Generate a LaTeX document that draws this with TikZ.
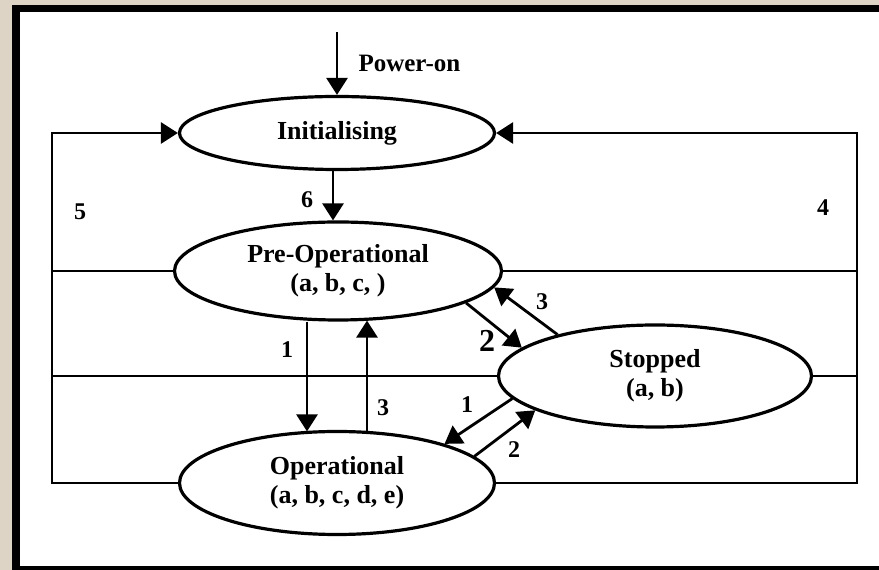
\documentclass[tikz,border=0pt]{standalone}
\usepackage{fontspec}
\setmainfont{Liberation Serif}
\usepackage{tikz}
\usetikzlibrary{shapes.geometric, arrows.meta, positioning, calc}
\usepackage{xcolor}
\definecolor{stoneBg}{RGB}{222,212,197}

\begin{document}
\begin{tikzpicture}[x=1pt, y=1pt,
  phase/.style={ellipse, draw, line width=3.2pt, fill=white,
                inner sep=0pt, align=center,
                font=\fontsize{26}{29}\selectfont\bfseries},
  arr/.style={-{Triangle[length=17pt, width=21pt]}, line width=2.8pt},
  bus/.style={line width=2.6pt},
  num/.style={font=\fontsize{24}{24}\selectfont\bfseries}
]
  % frame
  \useasboundingbox (0,0) rectangle (879,570);
  \fill[stoneBg] (0,0) rectangle (879,570);
  \fill[black] (12,0) rectangle (879,565);
  \fill[white] (20,4) rectangle (879,558);

  \node[phase, minimum width=315, minimum height=73]  (init) at (337,437) {Initialising};
  \node[phase, minimum width=327, minimum height=98]  (pre)  at (338,299) {Pre-Operational\\(a, b, c, )};
  \node[phase, minimum width=315, minimum height=103] (op)   at (337,87)  {Operational\\(a, b, c, d, e)};
  \node[phase, minimum width=313, minimum height=102] (stop) at (655,194) {Stopped\\(a, b)};

  \coordinate (pwr) at (337,538);
  \coordinate (lx) at (52,0);
  \coordinate (rx) at (857,0);

  \draw[arr] (pwr) -- (init.north);
  \node[anchor=west, font=\fontsize{25}{25}\selectfont\bfseries] (pwrlbl) at (355,507) {Power-on};
  \draw[arr] ($(init.south)+(-4,0)$) -- ($(pre.north)+(-5,0)$);

  % reset loops 5 and 4
  \draw[arr] (op.west) -- (op.west -| lx) -- (init.west -| lx) -- (init.west);
  \draw[arr] (op.east) -- (op.east -| rx) -- (init.east -| rx) -- (init.east);
  \foreach \s in {pre, stop} {
    \draw[bus] (\s.west) -- (\s.west -| lx);
    \draw[bus] (\s.east) -- (\s.east -| rx);
  }

  \draw[arr] ($(pre.south)+(-31,0)$) -- ($(op.north)+(-30,-1.5)$);
  \draw[arr] ($(op.north)+(30,-1.5)$) -- ($(pre.south)+(29,1)$);
  \draw[arr] (pre.-14) -- (stop.168);
  \draw[arr] (stop.157) -- (pre.-6);
  \draw[arr] (stop.189) -- (op.20);
  \draw[arr] (op.11) -- (stop.196);

  \node[num] (l6)  at (307,370) {6};
  \node[num] (l5)  at (80,358)  {5};
  \node[num] (l4)  at (823,362) {4};
  \node[num] (l1a) at (287,220) {1};
  \node[num] (l3a) at (383,162) {3};
  \node[num] (l3b) at (542,268) {3};
  \node[num, font=\fontsize{32}{32}\selectfont\bfseries] (l2a) at (487,229) {2};
  \node[num] (l1b) at (467,165) {1};
  \node[num] (l2b) at (514,120) {2};
\end{tikzpicture}
\end{document}
